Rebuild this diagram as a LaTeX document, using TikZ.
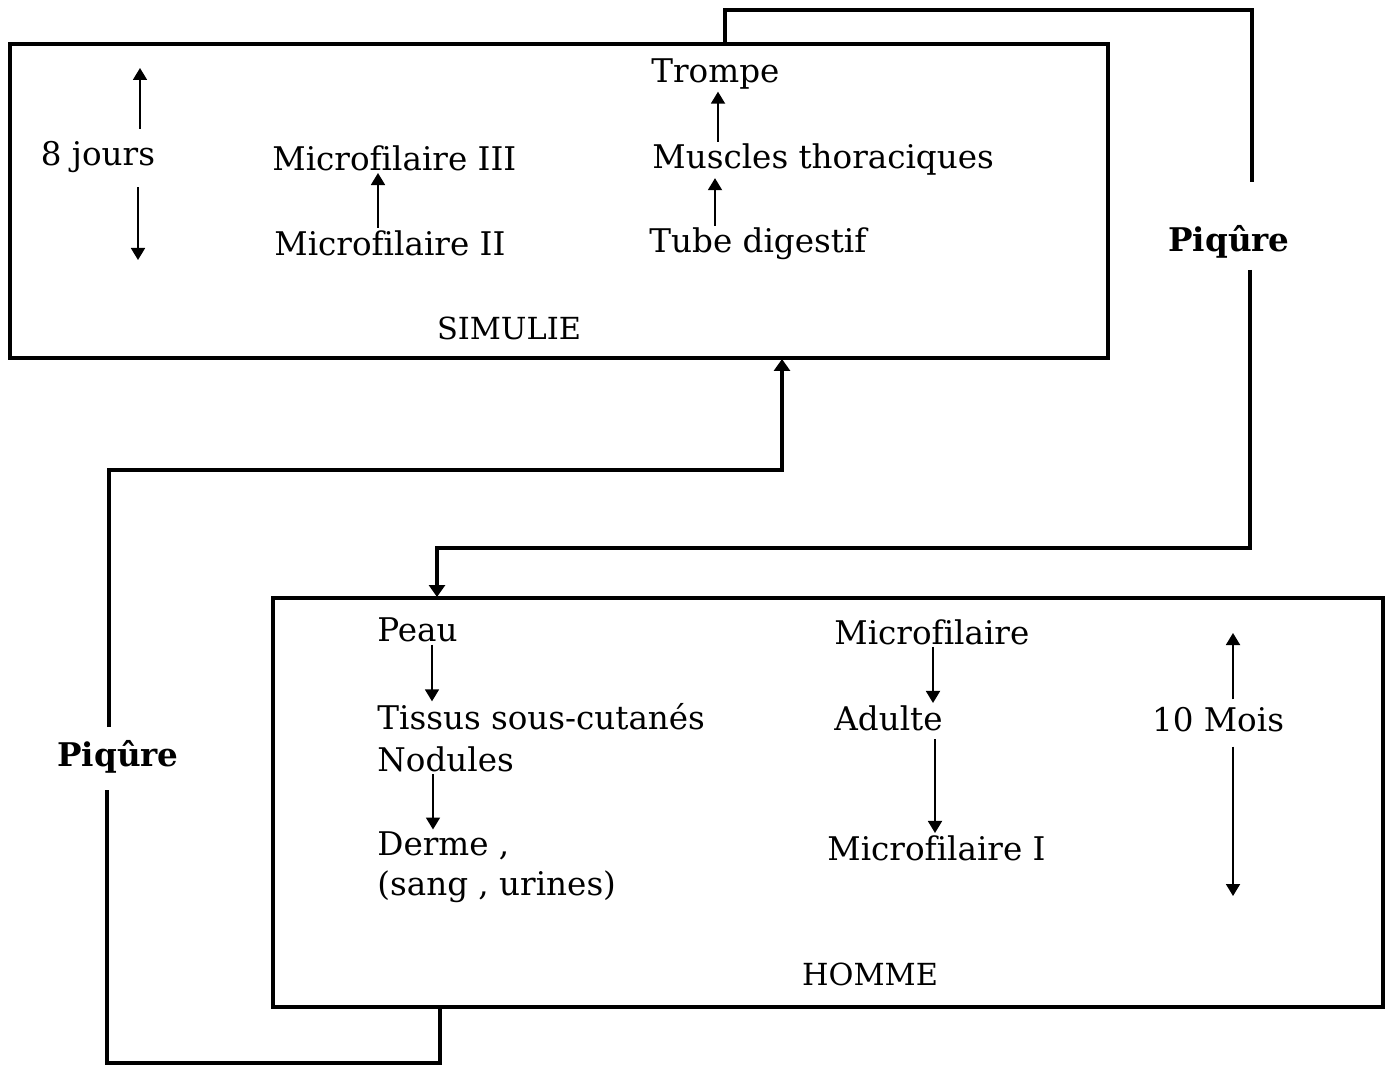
\documentclass[tikz,border=0pt]{standalone}
\usepackage{fontspec}
\setmainfont{DejaVu Serif}[Ligatures=CommonOff]
\usetikzlibrary{arrows.meta,positioning}

\begin{document}
\begin{tikzpicture}[x=0.5pt,y=-0.5pt,
  box/.style={draw,line width=1.8pt},
  cycle line/.style={draw,line width=1.8pt,line join=miter},
  lbl/.style={inner sep=1pt,font=\fontsize{16.3}{18}\selectfont},
  title/.style={inner sep=1pt,font=\fontsize{15.2}{17}\selectfont},
  stage/.style={lbl,anchor=west},
  piq/.style={lbl,font=\fontsize{16.3}{18}\selectfont\bfseries},
  arr/.style={line width=0.9pt,-{Triangle[length=6pt,width=7pt]}},
  bigarr/.style={cycle line,-{Triangle[length=6pt,width=8pt]}}]
\path[use as bounding box] (0,0) rectangle (1390,1068);

% boxes
\draw[box] (10,44) rectangle (1108,358);
\draw[box] (273,598) rectangle (1383,1007);

% SIMULIE
\node[title] (simulie) at (509,328) {SIMULIE};
\node[lbl] (jours) at (98,157) {8 jours};
\coordinate (joursTop) at (140,68);
\coordinate (joursBot) at (138,260);
\draw[arr] (jours.north -| joursTop) ++(0,-10) coordinate (ja) (ja) -- (joursTop);
\draw[arr] (jours.south -| joursBot) ++(0,12) coordinate (jb) (jb) -- (joursBot);

\node[stage] (mfIII) at (270,158) {Microfilaire III};
\node[stage] (mfII) at (272,243) {Microfilaire II};
\draw[arr] (mfII.north -| 378,0) -- (mfIII.south -| 378,0);

\node[stage] (trompe) at (649,74) {Trompe};
\node[stage] (muscles) at (650,160) {Muscles thoraciques};
\node[stage] (tube) at (647,244) {Tube digestif};
\draw[arr] (muscles.north -| 718,0) -- (trompe.south -| 718,0);
\draw[arr] (tube.north -| 715,0) -- (muscles.south -| 715,0);

% HOMME
\node[title] (homme) at (870,974) {HOMME};
\node[stage] (peau) at (375,630) {Peau};
\node[stage] (tissus) at (375,717) {Tissus sous-cutanés};
\node[stage] (nodules) at (375,759) {Nodules};
\node[stage] (derme) at (375,846) {Derme ,};
\node[stage] (sang) at (375,887) {(sang , urines)};
\draw[arr] (peau.south -| 432,0) -- (tissus.north -| 432,0);
\draw[arr] (nodules.south -| 433,0) -- (derme.north -| 433,0);

\node[stage] (mf) at (832,632) {Microfilaire};
\node[stage] (adulte) at (832,718) {Adulte};
\node[stage] (mfI) at (825,848) {Microfilaire I};
\draw[arr] (mf.south -| 933,0) -- (adulte.north -| 933,0);
\draw[arr] (adulte.south -| 935,0) ++(0,6) coordinate (ad) (ad) -- (mfI.north -| 935,0);

\node[lbl] (mois) at (1218,720) {10 Mois};
\coordinate (moisTop) at (1233,633);
\coordinate (moisBot) at (1233,896);
\draw[arr] (mois.north -| moisTop) ++(0,-6) coordinate (ma) (ma) -- (moisTop);
\draw[arr] (mois.south -| moisBot) ++(0,12) coordinate (mb) (mb) -- (moisBot);

% piqure, simulie -> homme
\node[piq] (piqR) at (1229,242) {Piqûre};
\coordinate (sOut) at (725,44);
\coordinate (r1) at (725,10);
\coordinate (r2) at (1252,10);
\coordinate (r3) at (1252,182);
\coordinate (r4) at (1250,270);
\coordinate (r5) at (1250,548);
\coordinate (r6) at (437,548);
\coordinate (hIn) at (437,597);
\draw[cycle line] (sOut) -- (r1) -- (r2) -- (r3);
\draw[bigarr] (r4) -- (r5) -- (r6) -- (hIn);

% piqure, homme -> simulie
\node[piq] (piqL) at (118,757) {Piqûre};
\coordinate (hOut) at (440,1007);
\coordinate (l1) at (440,1063);
\coordinate (l2) at (107,1063);
\coordinate (l3) at (107,790);
\coordinate (l4) at (109,727);
\coordinate (l5) at (109,470);
\coordinate (l6) at (782,470);
\coordinate (sIn) at (782,359);
\draw[cycle line] (hOut) -- (l1) -- (l2) -- (l3);
\draw[bigarr] (l4) -- (l5) -- (l6) -- (sIn);
\end{tikzpicture}
\end{document}
